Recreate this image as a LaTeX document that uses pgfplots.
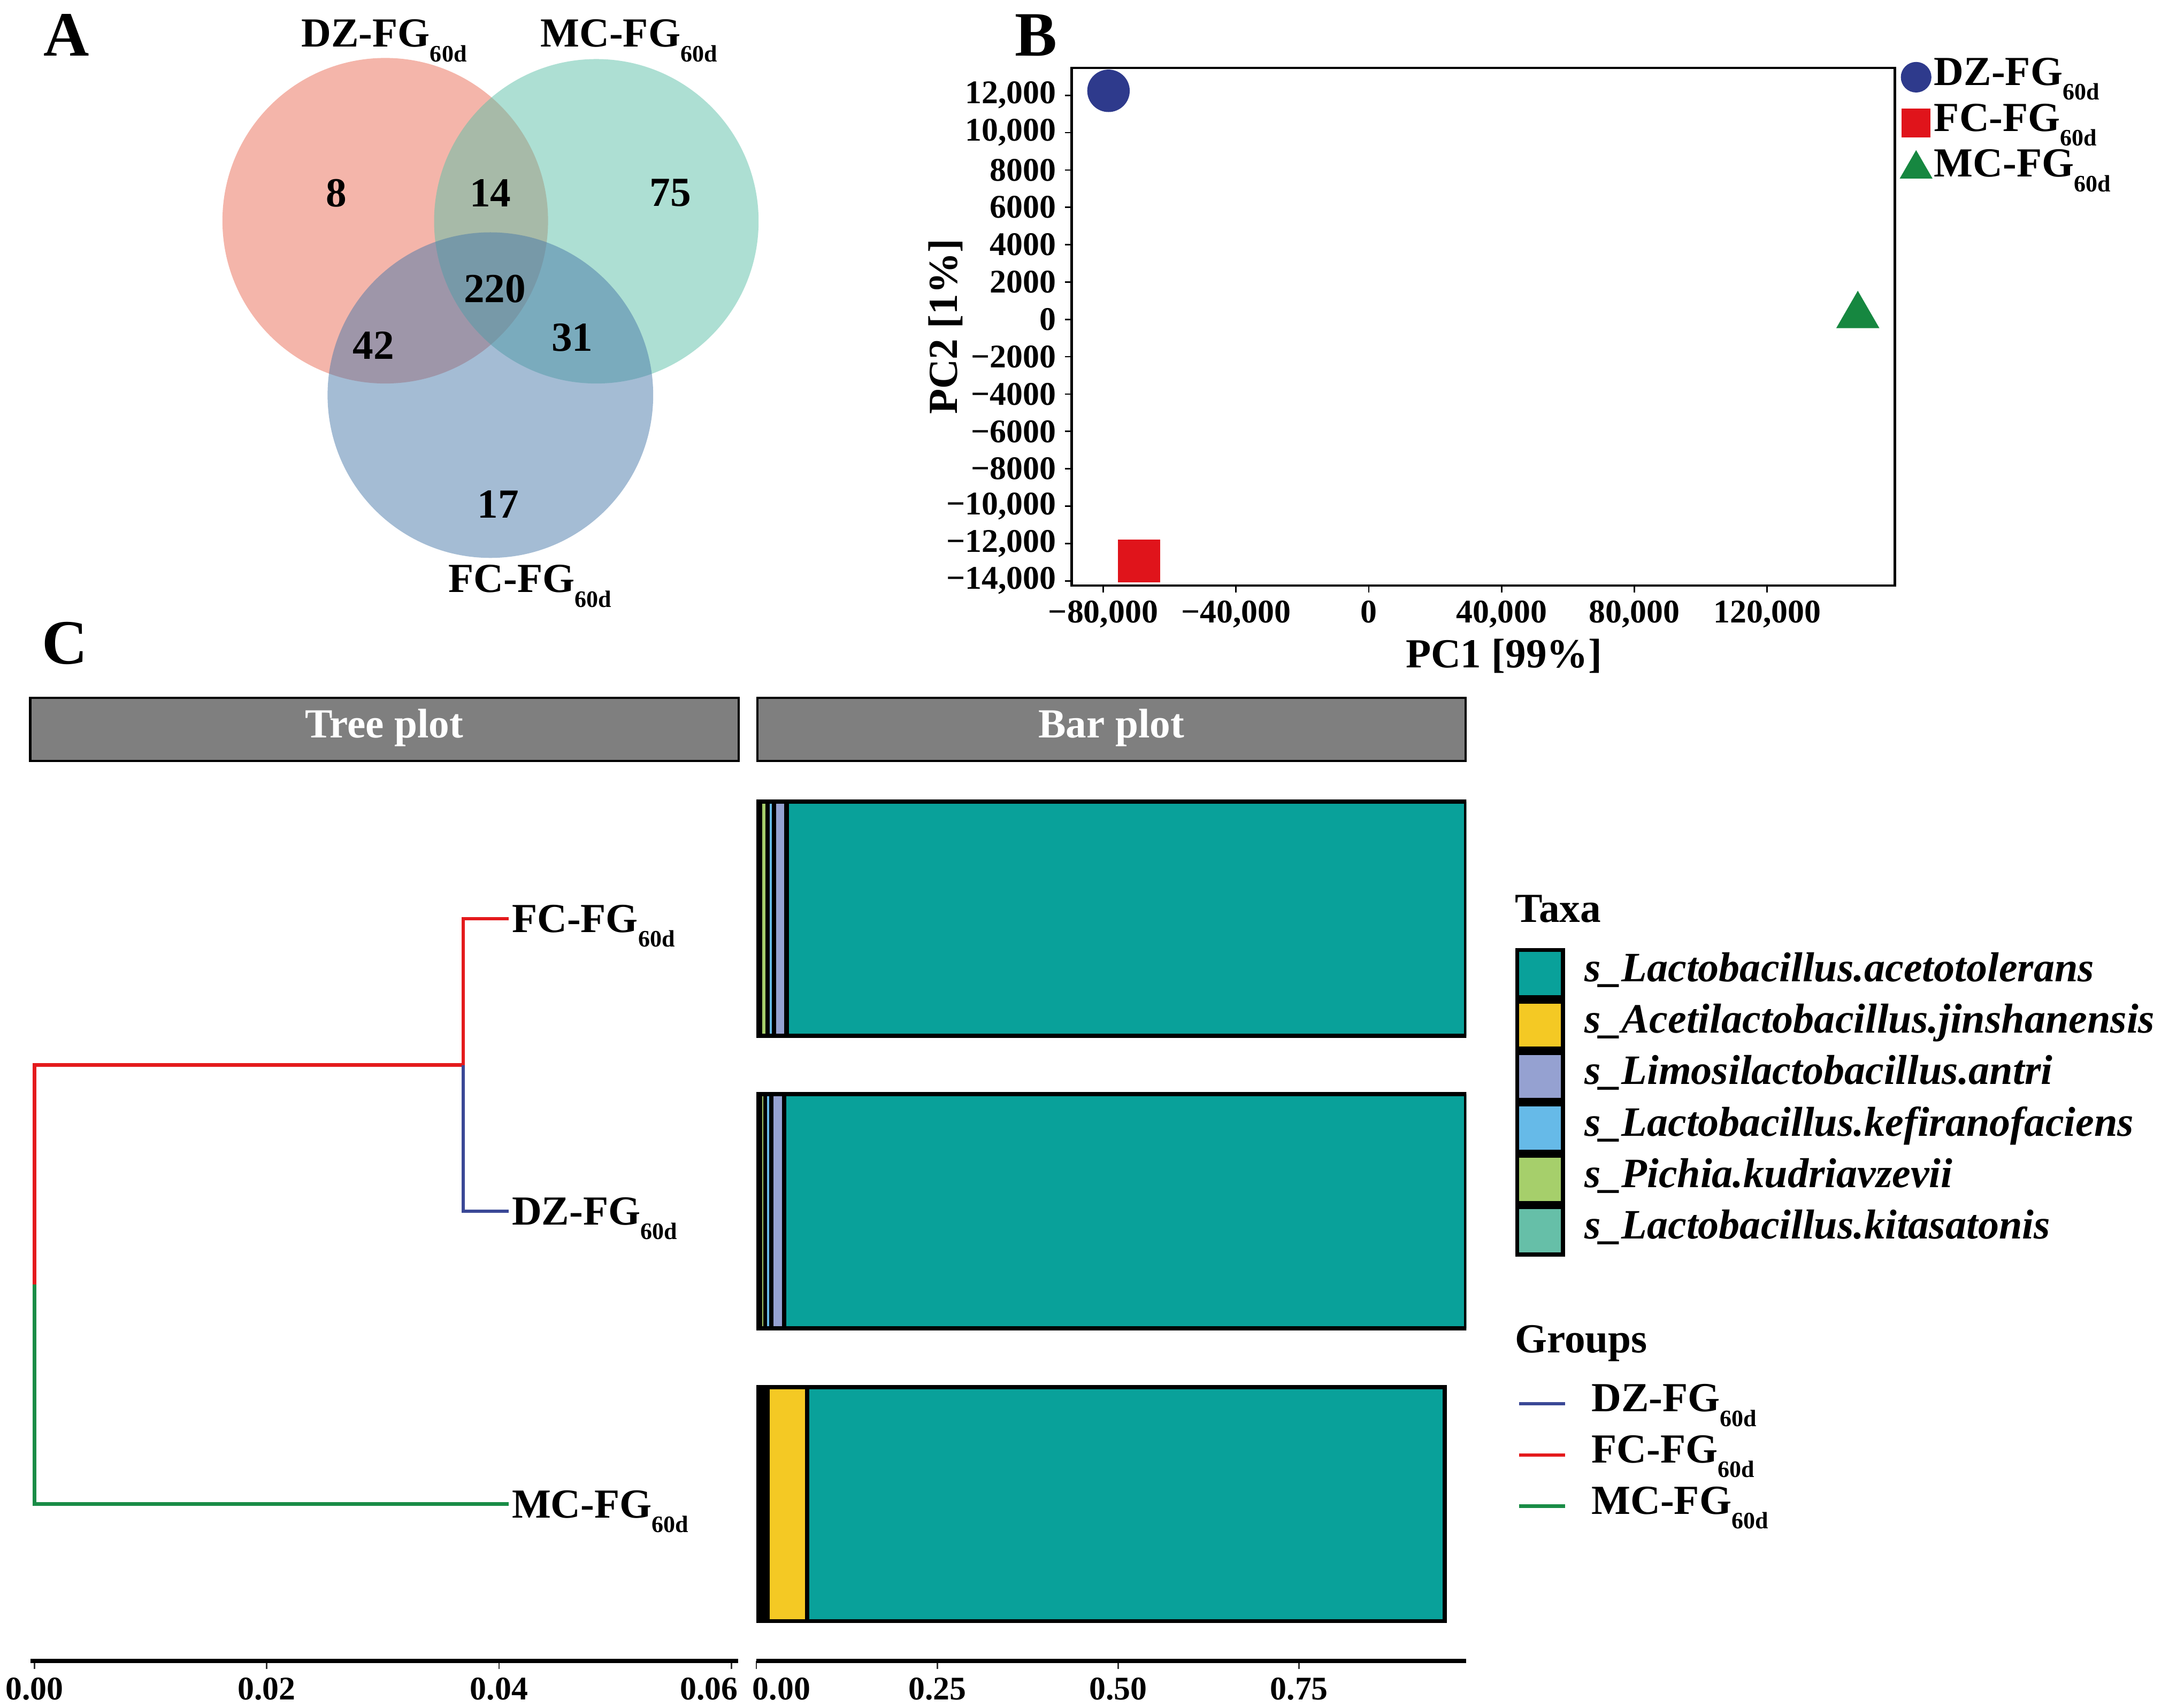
\documentclass[border=0pt]{standalone}
\usepackage{pgfplots}
\pgfplotsset{compat=1.18}
\usepackage{fontspec}
\setmainfont{Liberation Serif}

\definecolor{dzfill}{RGB}{233,107,85}
\definecolor{mcfill}{RGB}{91,191,167}
\definecolor{fcfill}{RGB}{73,121,169}
\definecolor{dzblue}{RGB}{46,58,140}
\definecolor{fcred}{RGB}{224,20,27}
\definecolor{mcgreen}{RGB}{22,135,64}
\definecolor{treered}{RGB}{228,26,28}
\definecolor{treeblue}{RGB}{58,72,150}
\definecolor{treegreen}{RGB}{25,140,70}
\definecolor{cTeal}{RGB}{9,161,154}
\definecolor{cYellow}{RGB}{244,201,36}
\definecolor{cLav}{RGB}{149,161,209}
\definecolor{cSky}{RGB}{102,186,232}
\definecolor{cLime}{RGB}{166,207,107}
\definecolor{cMint}{RGB}{102,191,168}
\definecolor{stripgray}{RGB}{127,127,127}

\newcommand\lbl{\bfseries\fontsize{17}{20}\selectfont}
\newcommand\tck{\bfseries\fontsize{13.6}{16}\selectfont}
\newcommand\sub[1]{\raisebox{-6pt}{\fontsize{9.7}{11}\selectfont #1}}

\pgfplotsset{
  taxon/.style={fill=#1, draw=black, line width=1.7pt,
    legend image code/.code={\draw[fill=#1, draw=black, line width=1.7pt] (0.3mm,-3.42mm) rectangle (6.9mm,3.42mm);}},
  strip/.style={title={#1},
    every axis title/.style={at={(0.5,1)}, anchor=south, fill=stripgray, draw=black, line width=0.9pt,
      minimum width=102.4mm, minimum height=9.16mm, inner sep=0pt, outer sep=0pt,
      text height=0.66em, text depth=0pt, text=white, font=\lbl}},
}

\begin{document}
\begin{tikzpicture}
\useasboundingbox (0,0) rectangle (313.6mm,-246.94mm);

% panel letters
\node[font=\bfseries\fontsize{26}{30}\selectfont] at (9.6mm,-5.1mm) {A};
\node[font=\bfseries\fontsize{26}{30}\selectfont] at (149.8mm,-5.1mm) {B};
\node[font=\bfseries\fontsize{26}{30}\selectfont] at (9.4mm,-93mm) {C};

% ---------- A: Venn ----------
\begin{axis}[at={(20mm,0mm)}, anchor=north west, scale only axis, width=100mm, height=90mm,
  xmin=100, xmax=600, ymin=0, ymax=450, y dir=reverse, hide axis, clip=false]
\addplot[only marks, mark=*, mark size=23.54mm, mark options={draw opacity=0, fill=dzfill, fill opacity=0.5}] coordinates {(278.5,159.6)};
\addplot[only marks, mark=*, mark size=23.46mm, mark options={draw opacity=0, fill=mcfill, fill opacity=0.5}] coordinates {(431.1,160)};
\addplot[only marks, mark=*, mark size=23.54mm, mark options={draw opacity=0, fill=fcfill, fill opacity=0.5}] coordinates {(354.5,285.7)};
\addplot[draw=none, mark=none, nodes near coords, point meta=explicit symbolic,
  every node near coord/.append style={anchor=center, font=\lbl, text=black}] coordinates {
  (243.1,139.6) [8] (354.5,139.6) [14] (484.7,139.6) [75] (357.8,209) [220]
  (270.1,249.7) [42] (413.7,244) [31] (360,364.6) [17]};
\node[anchor=base west, font=\lbl, inner sep=0pt] at (axis cs:217.6,34) {DZ-FG\sub{60d}};
\node[anchor=base west, font=\lbl, inner sep=0pt] at (axis cs:390.4,34) {MC-FG\sub{60d}};
\node[anchor=base west, font=\lbl, inner sep=0pt] at (axis cs:323.8,428.4) {FC-FG\sub{60d}};
\end{axis}

% ---------- B: PCA ----------
\begin{axis}[at={(154.94mm,-84.66mm)}, anchor=south west, scale only axis, width=119.02mm, height=74.84mm,
  xmin=-89500, xmax=158460, ymin=-14244, ymax=13466, clip=false,
  axis line style={line width=0.95pt}, tick align=outside, major tick length=1mm,
  tick style={line width=0.6pt, black}, tick pos=left, scaled ticks=false,
  xtick={-80000,-40000,0,40000,80000,120000},
  xticklabels={{−80,000},{−40,000},0,{40,000},{80,000},{120,000}},
  ytick={-14000,-12000,...,12000},
  yticklabels={{−14,000},{−12,000},{−10,000},−8000,−6000,−4000,−2000,0,2000,4000,6000,8000,{10,000},{12,000}},
  ticklabel style={font=\tck},
  xlabel={PC1 [99\%]}, ylabel={PC2 [1\%]},
  every axis x label/.style={at={(axis description cs:0.525,-0.137)}, anchor=center, font=\lbl},
  every axis y label/.style={at={(axis description cs:-0.1533,0.5)}, anchor=center, rotate=90, font=\lbl},
  legend style={at={(1.0034,1.0273)}, anchor=north west, draw=none, fill=none, inner sep=0pt,
    row sep=0pt, column sep=0pt, font=\lbl,
    nodes={inner sep=0pt, text height=0.7em, text depth=0.05em}, cells={anchor=west}},
]
\addplot[only marks, mark=*, mark size=3mm, color=dzblue, forget plot] coordinates {(-78400,12240)};
\addplot[only marks, mark=square*, mark size=3mm, color=fcred, forget plot] coordinates {(-69200,-12930)};
\addplot[only marks, mark=triangle*, mark size=3.46mm, color=mcgreen, forget plot] coordinates {(147300,200)};
\addlegendimage{legend image code/.code={\path[draw=none,fill=none] (-2.6mm,-3.32mm) rectangle (2.6mm,3.32mm); \fill[dzblue] (0,0) circle (2.14mm);}}
\addlegendentry{DZ-FG\sub{60d}}
\addlegendimage{legend image code/.code={\path[draw=none,fill=none] (-2.6mm,-3.32mm) rectangle (2.6mm,3.32mm); \fill[fcred] (-2.03mm,-2.03mm) rectangle (2.03mm,2.03mm);}}
\addlegendentry{FC-FG\sub{60d}}
\addlegendimage{legend image code/.code={\path[draw=none,fill=none] (-2.6mm,-3.32mm) rectangle (2.6mm,3.32mm); \fill[mcgreen] (90:2.6mm) -- (210:2.6mm) -- (330:2.6mm) -- cycle;}}
\addlegendentry{MC-FG\sub{60d}}
\end{axis}

% ---------- C: tree ----------
\begin{axis}[at={(4.4mm,-240.2mm)}, anchor=south west, scale only axis, width=102.34mm, height=130.12mm,
  xmin=-0.000345, xmax=0.0606, ymin=0.464, ymax=3.538,
  axis x line*=bottom, hide y axis, clip=false,
  axis line style={line width=1.8pt, black},
  xtick={0,0.02,0.04,0.06},
  xticklabels={0.00,0.02,0.04,\makebox[0pt][r]{0.06\hspace*{-0.95mm}}},
  tick align=outside, major tick length=1.2mm, tick style={line width=0.6pt, black!80},
  xticklabel style={font=\tck},
  strip={Tree plot},
  legend image code/.code={\draw[#1, line width=1.4pt] (0mm,0mm) -- (6.6mm,0mm); \path[draw=none,fill=none] (0mm,-3.7mm) rectangle (6.6mm,3.7mm);},
  legend style={at={(2.1003,0.3148)}, anchor=north west, draw=none, fill=none, inner sep=0pt,
    row sep=0pt, column sep=3.6mm, font=\lbl,
    nodes={inner sep=0pt, text height=0.7em, text depth=0.05em}, cells={anchor=west}},
]
\addplot[treered, line width=1.4pt, line join=miter, forget plot] coordinates {(0,1.75) (0,2.5) (0.03693,2.5) (0.03693,3) (0.04083,3)};
\addplot[treeblue, line width=1.4pt, line join=miter, forget plot] coordinates {(0.03693,2.5) (0.03693,2) (0.04083,2)};
\addplot[treegreen, line width=1.4pt, line join=miter, forget plot] coordinates {(0,1.75) (0,1) (0.04083,1)};
\addplot[draw=none, mark=none, forget plot, nodes near coords, point meta=explicit symbolic,
  every node near coord/.append style={anchor=base west, font=\lbl, text=black, inner sep=0pt, xshift=0.4mm, yshift=-5.6pt}]
  coordinates {(0.04083,3) [FC-FG\sub{60d}] (0.04083,2) [DZ-FG\sub{60d}] (0.04083,1) [MC-FG\sub{60d}]};
\addlegendimage{treeblue}\addlegendentry{DZ-FG\sub{60d}}
\addlegendimage{treered}\addlegendentry{FC-FG\sub{60d}}
\addlegendimage{treegreen}\addlegendentry{MC-FG\sub{60d}}
\node[anchor=base west, font=\lbl, inner sep=0pt] at (axis description cs:2.0964,0.3429) {Groups};
\end{axis}

% ---------- C: bars ----------
\begin{axis}[at={(109.36mm,-240.2mm)}, anchor=south west, scale only axis, width=102.64mm, height=130.12mm,
  xbar stacked, bar width=0.8,
  xmin=0, xmax=0.981, ymin=0.464, ymax=3.538,
  axis x line*=bottom, hide y axis, clip mode=individual,
  axis line style={line width=1.8pt, black},
  xtick={0,0.25,0.5,0.75},
  xticklabels={\makebox[0pt][l]{\hspace*{-0.55mm}0.00},0.25,0.50,0.75},
  tick align=outside, major tick length=1.2mm, tick style={line width=0.6pt, black!80},
  xticklabel style={font=\tck},
  strip={Bar plot},
  reverse legend,
  legend style={at={(1.0682,0.7930)}, anchor=north west, draw=none, fill=none, inner sep=0pt,
    row sep=0pt, column sep=2.8mm, font=\bfseries\itshape\fontsize{17.2}{20}\selectfont,
    nodes={inner sep=0pt, text height=0.7em, text depth=0.05em}, cells={anchor=west}},
]
% rows: 1 = MC-FG60d, 2 = DZ-FG60d, 3 = FC-FG60d
\addplot[taxon=cMint]   coordinates {(0.0040,1) (0.0054,2) (0.0054,3)};
\addplot[taxon=cLime]   coordinates {(0.0030,1) (0.0068,2) (0.0098,3)};
\addplot[taxon=cSky]    coordinates {(0.0040,1) (0.0086,2) (0.0091,3)};
\addplot[taxon=cLav]    coordinates {(0.0043,1) (0.0172,2) (0.0169,3)};
\addplot[taxon=cYellow] coordinates {(0.0550,1) (0.0008,2) (0.0007,3)};
\addplot[taxon=cTeal]   coordinates {(0.8807,1) (0.9422,2) (0.9391,3)};
\legend{s\_Lactobacillus.kitasatonis, s\_Pichia.kudriavzevii, s\_Lactobacillus.kefiranofaciens,
  s\_Limosilactobacillus.antri, s\_Acetilactobacillus.jinshanensis, s\_Lactobacillus.acetotolerans}
\node[anchor=base west, font=\lbl, inner sep=0pt] at (axis description cs:1.0682,0.8209) {Taxa};
\end{axis}
\end{tikzpicture}
\end{document}
